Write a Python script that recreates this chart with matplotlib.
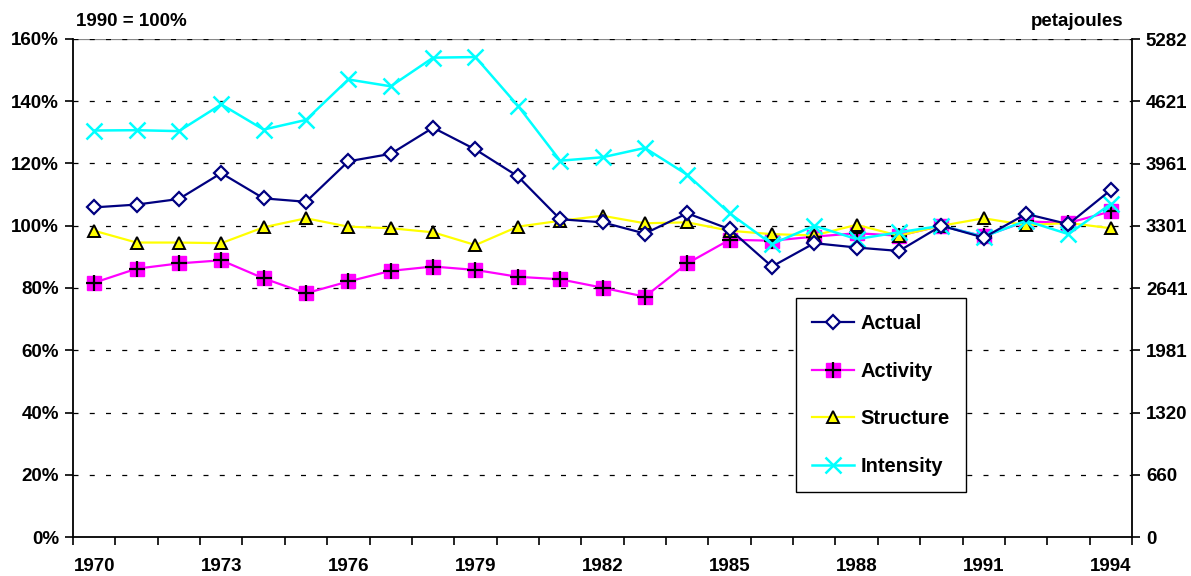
import matplotlib
matplotlib.use("Agg")
import matplotlib.pyplot as plt
from matplotlib.legend_handler import HandlerTuple

plt.rcParams['font.family'] = ['Liberation Sans', 'DejaVu Sans']
plt.rcParams['font.weight'] = 'bold'

years = list(range(1970, 1995))
actual = [105.9, 106.8, 108.6, 116.9, 108.8, 107.7, 120.7, 123.1, 131.5, 124.5, 115.9, 102.1, 101.1,
          97.5, 104.0, 98.9, 86.9, 94.4, 93.0, 91.9, 100.0, 96.2, 103.8, 100.5, 111.5]
activity = [81.7, 86.2, 87.9, 88.9, 83.1, 78.3, 82.1, 85.5, 86.9, 85.8, 83.6, 82.8, 80.1,
            77.2, 87.9, 95.5, 95.2, 96.5, 97.6, 96.8, 100.0, 96.6, 101.4, 100.9, 104.6]
structure = [98.4, 94.6, 94.6, 94.4, 99.5, 102.4, 99.7, 99.2, 97.9, 93.8, 99.7, 101.6, 103.2,
             100.8, 101.1, 98.4, 97.3, 96.9, 100.3, 96.8, 100.0, 102.4, 100.2, 100.9, 99.2]
intensity = [130.6, 130.7, 130.4, 139.0, 130.9, 134.0, 147.0, 144.8, 154.0, 154.2, 138.6, 120.9, 122.0,
             125.0, 116.4, 104.0, 94.1, 100.0, 95.7, 97.9, 100.0, 96.5, 101.6, 97.3, 107.0]
series_names = ['Actual', 'Activity', 'Structure', 'Intensity']
left_ticks = [0, 20, 40, 60, 80, 100, 120, 140, 160]
left_labels = ['0%', '20%', '40%', '60%', '80%', '100%', '120%', '140%', '160%']
right_labels = ['0', '660', '1320', '1981', '2641', '3301', '3961', '4621', '5282']
base_pj = 3301.3
year_labels = [1970, 1973, 1976, 1979, 1982, 1985, 1988, 1991, 1994]

fig = plt.figure(figsize=(11.91, 5.76), dpi=100)
ax = fig.add_axes([73/1191, 1-537/576, (1132-73)/1191, (537-39)/576])

fs = 13.5
navy = '#000080'
mag = '#FF00FF'
yel = '#FFFF00'
cyan = '#00FFFF'

l_act, = ax.plot(years, actual, color=navy, lw=1.6, marker='D', ms=7.5, mfc='white', mec=navy, mew=1.6, zorder=5)
l_actv, = ax.plot(years, activity, color=mag, lw=1.6, marker='s', ms=9.5, mfc=mag, mec=mag, zorder=4)
l_actp, = ax.plot(years, activity, ls='none', marker='+', ms=12, mec='black', mew=1.6, zorder=4.1)
l_str, = ax.plot(years, structure, color=yel, lw=1.6, marker='^', ms=9, mfc=yel, mec='black', mew=1.4, zorder=4.5)
l_int, = ax.plot(years, intensity, color=cyan, lw=1.8, marker='x', ms=12, mec=cyan, mew=1.8, zorder=4.8)

ax.set_xlim(1969.5, 1994.5)
ax.set_ylim(0, 160)
ax.set_yticks(left_ticks)
ax.set_yticklabels(left_labels)
ax.set_xticks([1969.5 + k for k in range(26)])
ax.set_xticklabels([])
ax.set_xticks(year_labels, minor=True)
ax.set_xticklabels([str(y) for y in year_labels], minor=True)
ax.tick_params(axis='x', which='major', direction='out', length=6, width=1.2)
ax.tick_params(axis='x', which='minor', length=0, pad=15, labelsize=fs)
ax.tick_params(axis='y', direction='out', length=6, width=1.2, labelsize=fs, pad=4)

for y in left_ticks[1:]:
    ax.axhline(y, color='black', lw=0.9, ls=(0, (4, 9)), zorder=1)
ax.axhline(160, color='#888888', lw=0.9, zorder=0.9)

ax.spines['top'].set_visible(False)
ax.spines['left'].set_linewidth(1.3)
ax.spines['bottom'].set_linewidth(1.3)
ax.spines['right'].set_visible(False)

ax2 = ax.twinx()
ax2.set_ylim(0, base_pj * 1.6)
ax2.set_yticks([base_pj * t / 100 for t in left_ticks])
ax2.set_yticklabels(right_labels)
ax2.tick_params(axis='y', direction='out', length=6, width=1.2, labelsize=fs, pad=4)
ax2.spines['top'].set_visible(False)
ax2.spines['left'].set_visible(False)
ax2.spines['bottom'].set_visible(False)
ax2.spines['right'].set_linewidth(1.3)

fig.text(76/1191, 1-22/576, '1990 = 100%', fontsize=fs, fontweight='bold', ha='left', va='center')
fig.text(1123/1191, 1-22/576, 'petajoules', fontsize=fs, fontweight='bold', ha='right', va='center')

leg = ax2.legend([l_act, (l_actv, l_actp), l_str, l_int], series_names,
                 handler_map={tuple: HandlerTuple(ndivide=1)},
                 loc='upper left', bbox_to_anchor=((796-73)/1059, (537-298)/498),
                 borderaxespad=0, frameon=True, fancybox=False, framealpha=1,
                 edgecolor='black', prop={'size': 14.5, 'weight': 'bold'},
                 labelspacing=1.42, handlelength=2.1, handletextpad=0.3,
                 borderpad=0.8)
leg.get_frame().set_linewidth(1.0)
leg.set_zorder(10)

fig.savefig('out.png', dpi=100)
